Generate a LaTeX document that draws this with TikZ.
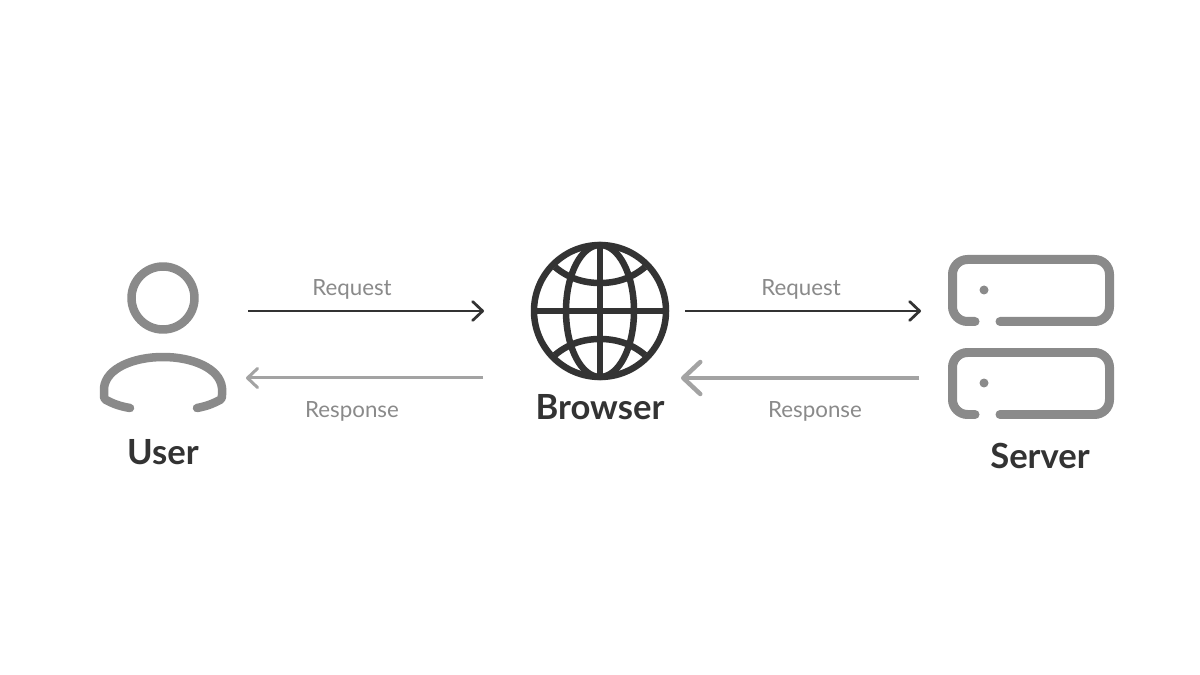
\documentclass[tikz,border=0pt]{standalone}
\usepackage{fontspec}
\setmainfont{Lato}
\usetikzlibrary{arrows.meta}
\definecolor{darkink}{HTML}{333333}
\definecolor{midink}{HTML}{8A8A8A}
\definecolor{lightink}{HTML}{A3A3A3}

\begin{document}
\begin{tikzpicture}[x=0.02cm,y=-0.02cm,
    title/.style = {anchor=base, font=\fontsize{19.7}{22}\selectfont\bfseries, text=darkink},
    tag/.style = {anchor=base, font=\fontsize{12.7}{14}\selectfont, text=midink},
    icon/.style = {draw=midink, line width=0.17cm, line cap=round, line join=round},
    globe/.style = {draw=darkink, line width=0.13cm},
    reqline/.style = {draw=darkink, line width=0.055cm,
        -{Straight Barb[length=0.2cm,width=0.38cm,round]}},
    resline/.style = {draw=lightink, line width=0.06cm,
        -{Straight Barb[length=0.2cm,width=0.38cm,round]}},
    resthick/.style = {draw=lightink, line width=0.09cm,
        -{Straight Barb[length=0.34cm,width=0.64cm,round]}},
    led/.style = {circle, fill=midink, inner sep=0pt, minimum size=0.18cm}]
\useasboundingbox[fill=white] (0,0) rectangle (1200,675);

% user
\draw[icon] (163,298) circle (31.5);
\draw[icon] (130,408) .. controls (118,406) and (112,403) .. (106,400)
    .. controls (104,399) and (104,397) .. (104,395)
    -- (104,388) .. controls (106,368) and (134,357) .. (163,357)
    .. controls (192,357) and (220,368) .. (222,388)
    -- (222,395) .. controls (222,397) and (222,399) .. (220,400)
    .. controls (214,403) and (208,406) .. (197,408);
\node[title] (user) at (163,464) {User};

% browser
\draw[globe] (600,311) circle (66);
\draw[globe] (600,311) ellipse (34 and 66);
\draw[globe] (534,311) -- (666,311);
\draw[globe] (600,245) -- (600,377);
\draw[globe] (555,267) .. controls (568,278) and (583,283) .. (600,283)
    .. controls (617,283) and (632,278) .. (645,267);
\draw[globe] (555,355) .. controls (568,344) and (583,339) .. (600,339)
    .. controls (617,339) and (632,344) .. (645,355);
\node[title] (browser) at (600,419) {Browser};

% server
\foreach \name/\top in {one/259.5, two/352.5} {
    \draw[icon, line width=0.18cm, rounded corners=0.3cm] (975,\top+62) -- (952.5,\top+62)
        -- (952.5,\top) -- (1109.5,\top) -- (1109.5,\top+62) -- (1000,\top+62);
    \node[led] (led\name) at (984,\top+30.5) {};
}
\node[title] (server) at (1040,468) {Server};

% connectors
\coordinate (a1) at (248,311);
\coordinate (a2) at (484,311);
\coordinate (b1) at (483,378);
\coordinate (b2) at (246,378);
\coordinate (c1) at (685,311);
\coordinate (c2) at (921,311);
\coordinate (d1) at (919,378);
\coordinate (d2) at (681,378);
\draw[reqline] (a1) -- (a2);
\draw[resline] (b1) -- (b2);
\draw[reqline] (c1) -- (c2);
\draw[resthick] (d1) -- (d2);
\node[tag] (req1) at (352,296) {Request};
\node[tag] (res1) at (352,418) {Response};
\node[tag] (req2) at (801,296) {Request};
\node[tag] (res2) at (815,418) {Response};
\end{tikzpicture}
\end{document}
